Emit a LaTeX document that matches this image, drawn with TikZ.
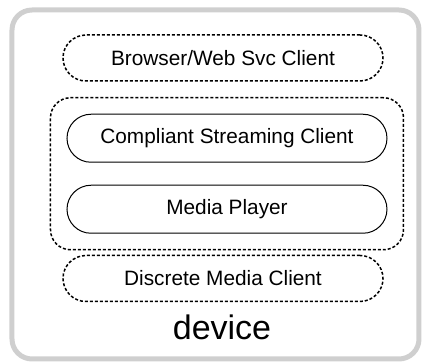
\documentclass[tikz,border=0pt]{standalone}
\usepackage{fontspec}
\setmainfont{Liberation Sans}
\usetikzlibrary{positioning, fit}
\definecolor{devgray}{RGB}{207,207,207}
\tikzstyle{pill} = [rectangle,
			draw,
			line width = 0.5pt,
			text centered,
			minimum width = 160pt,
			minimum height = 24pt,
			rounded corners = 12pt,
			font = \fontsize{10.4pt}{12pt}\selectfont]
\tikzstyle{dpill} = [pill,
			line width = 0.75pt,
			dash pattern = on 1.5pt off 1pt,
			minimum height = 23pt,
			rounded corners = 11.5pt]
\tikzstyle{group} = [rectangle,
			draw,
			line width = 0.75pt,
			dash pattern = on 1.5pt off 1pt,
			rounded corners = 10pt,
			inner sep = 8pt]

\begin{document}
\begin{tikzpicture}
	\useasboundingbox (0pt,0pt) rectangle (212.5pt,-181.5pt);
	\draw [devgray, line width = 2.5pt, rounded corners = 10pt] (6pt,-5pt) rectangle (209.5pt,-179.5pt);
	\node [dpill] (browser) at (111.5pt,-29pt) {Browser/Web Svc Client};
	\node [pill, below=16pt of browser, xshift=2pt] (comp) {Compliant Streaming Client};
	\node [pill, below=11pt of comp] (player) {Media Player};
	\node [group, fit=(comp)(player)] (stream) {};
	\node [dpill, below=10.5pt of player, xshift=-2pt] (discrete) {Discrete Media Client};
	\node [anchor=base, font=\fontsize{17pt}{20pt}\selectfont] (device) at (111pt,-170pt) {device};
\end{tikzpicture}
\end{document}
